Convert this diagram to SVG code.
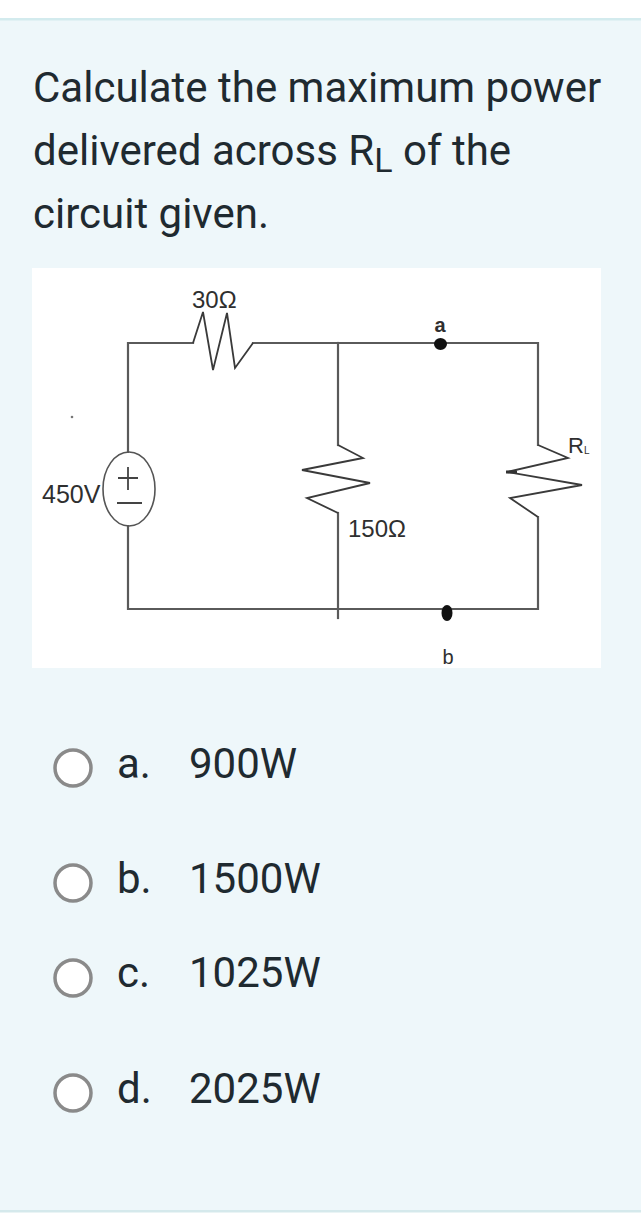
<svg xmlns="http://www.w3.org/2000/svg" width="641" height="1220" viewBox="0 0 641 1220">
<style>
.q{font-family:Roboto,"Liberation Sans",sans-serif;font-size:42px;fill:#1f2a30}
.lbl{font-family:"Liberation Sans",Arial,sans-serif;fill:#2f2f2f}
.wire{fill:none;stroke:#5a5a5a;stroke-width:2.2;stroke-linecap:square}
.zig{fill:none;stroke:#3a3a3a;stroke-width:1.8;stroke-linejoin:miter}
.radio{fill:#fff;stroke:#8a8a8a;stroke-width:3.5}
</style>
<rect x="0" y="0" width="641" height="1220" fill="#ffffff"/>
<rect x="0" y="20" width="641" height="1190" fill="#eef7fa"/>
<rect x="0" y="18" width="641" height="2.5" fill="#d3ebee"/>
<rect x="0" y="1210" width="641" height="2.5" fill="#d5e9ec"/>
<g id="question">
<text class="q" x="33" y="102">Calculate the maximum power</text>
<text class="q" x="33" y="165">delivered across R<tspan font-size="34" dy="7">L</tspan><tspan dy="-7"> of the</tspan></text>
<text class="q" x="33" y="228">circuit given.</text>
</g>
<g id="circuit">
<rect x="32" y="268" width="569" height="400" fill="#ffffff"/>
<circle cx="72" cy="417" r="1.3" fill="#777"/>
<g id="connectors">
<path class="wire" d="M128,452 V343 H193"/>
<path class="wire" d="M253,343 H538 V445"/>
<path class="wire" d="M128,526 V609 H538 V517"/>
<path class="wire" d="M338,343 V445"/>
<path class="wire" d="M338,513 V618"/>
</g>
<g id="r30">
<polyline class="zig" points="193,343 203,312 213,370 227,313 235,368 253,343"/>
<text class="lbl" x="192" y="308" font-size="24">30Ω</text>
</g>
<g id="r150">
<polyline class="zig" points="338,445 363,458 302,470 370,483 307,498 338,513"/>
<text class="lbl" x="348" y="537" font-size="24">150Ω</text>
</g>
<g id="rl">
<polyline class="zig" points="538,445 568,458 507,472 582,485 510,498 538,517"/>
<line x1="506" y1="472" x2="517" y2="472" stroke="#333" stroke-width="3"/>
<text class="lbl" x="568" y="453" font-size="22">R<tspan font-size="10" dy="1">L</tspan></text>
</g>
<g id="source">
<ellipse cx="129" cy="489" rx="26" ry="37" fill="none" stroke="#555" stroke-width="1.6"/>
<path d="M118,478 H138 M128,467 V490 M117,503 H142" stroke="#444" stroke-width="1.8" fill="none"/>
<text class="lbl" x="42" y="503" font-size="25">450V</text>
</g>
<g id="node-a">
<ellipse cx="440.5" cy="344" rx="6.5" ry="6" fill="#111"/>
<text class="lbl" x="440" y="332" font-size="20" font-weight="bold" text-anchor="middle">a</text>
</g>
<g id="node-b">
<ellipse cx="447" cy="613" rx="5.5" ry="8" fill="#111"/>
<text class="lbl" x="448" y="664" font-size="20" text-anchor="middle">b</text>
</g>
</g>
<g id="options">
<g id="opt-a"><circle class="radio" cx="73" cy="768" r="18"/><text class="q" x="117" y="778">a.</text><text class="q" x="189" y="778">900W</text></g>
<g id="opt-b"><circle class="radio" cx="73" cy="883" r="18"/><text class="q" x="117" y="893">b.</text><text class="q" x="189" y="893">1500W</text></g>
<g id="opt-c"><circle class="radio" cx="73" cy="978" r="18"/><text class="q" x="117" y="987">c.</text><text class="q" x="189" y="987">1025W</text></g>
<g id="opt-d"><circle class="radio" cx="73" cy="1093" r="18"/><text class="q" x="117" y="1103">d.</text><text class="q" x="189" y="1103">2025W</text></g>
</g>
</svg>
